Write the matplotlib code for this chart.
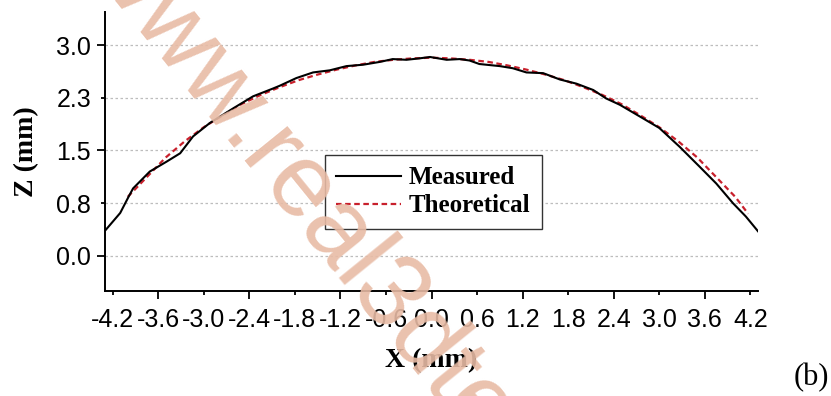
import matplotlib
matplotlib.use("Agg")
import matplotlib.pyplot as plt

# Measured profile (X in mm, Z in mm)
measured_x = [-4.29, -4.10, -3.99, -3.93, -3.71, -3.49, -3.31, -3.14, -2.92, -2.61,
              -2.35, -2.09, -2.00, -1.78, -1.56, -1.34, -1.12, -0.90, -0.68, -0.51,
              -0.33, -0.16, -0.02, 0.20, 0.37, 0.50, 0.63, 0.90, 1.07, 1.25,
              1.47, 1.69, 1.91, 2.13, 2.30, 2.48, 2.78, 3.00, 3.27, 3.53,
              3.75, 3.97, 4.14, 4.30]
measured_z = [0.37, 0.61, 0.84, 0.96, 1.20, 1.34, 1.46, 1.70, 1.89, 2.10,
              2.27, 2.38, 2.42, 2.53, 2.61, 2.64, 2.70, 2.72, 2.76, 2.80,
              2.79, 2.81, 2.83, 2.79, 2.80, 2.78, 2.73, 2.70, 2.67, 2.61,
              2.60, 2.51, 2.45, 2.36, 2.24, 2.15, 1.96, 1.82, 1.55, 1.27,
              1.03, 0.75, 0.56, 0.35]

# Theoretical profile
theory_x = [-4.00, -3.75, -3.50, -3.25, -3.00, -2.75, -2.50, -2.25, -2.00, -1.75,
            -1.50, -1.25, -1.00, -0.75, -0.50, -0.25, 0.00, 0.25, 0.50, 0.75,
            1.00, 1.25, 1.50, 1.75, 2.00, 2.25, 2.50, 2.75, 3.00, 3.25,
            3.50, 3.75, 4.00, 4.17]
theory_z = [0.84, 1.12, 1.40, 1.63, 1.83, 2.00, 2.16, 2.29, 2.40, 2.50,
            2.58, 2.65, 2.71, 2.76, 2.79, 2.81, 2.82, 2.81, 2.79, 2.76,
            2.71, 2.65, 2.58, 2.50, 2.40, 2.29, 2.16, 2.00, 1.83, 1.63,
            1.40, 1.12, 0.84, 0.60]

x_major = [-3.6, -2.4, -1.2, 0.0, 1.2, 2.4, 3.6]
x_major_labels = ["-3.6", "-2.4", "-1.2", "0.0", "1.2", "2.4", "3.6"]
x_minor = [-4.2, -3.0, -1.8, -0.6, 0.6, 1.8, 3.0, 4.2]
x_minor_labels = ["-4.2", "-3.0", "-1.8", "-0.6", "0.6", "1.8", "3.0", "4.2"]
y_major = [0.0, 1.5, 3.0]
y_major_labels = ["0.0", "1.5", "3.0"]
y_minor = [0.75, 2.25]
y_minor_labels = ["0.8", "2.3"]

W, H = 831, 396
fig = plt.figure(figsize=(W / 100, H / 100), dpi=100)
ax = fig.add_axes([105 / W, 1 - 291 / H, (758 - 105) / W, (291 - 12) / H])

ax.set_xlim(-4.3, 4.3)
ax.set_ylim(-0.5, 3.47)

# dotted horizontal guides at every Z tick
for yv in y_major + y_minor:
    ax.axhline(yv, color="#bdbdbd", lw=0.9, ls=(0, (2, 2)), zorder=0)

ax.plot(measured_x, measured_z, color="black", lw=1.5, label="Measured", zorder=3)
ax.plot(theory_x, theory_z, color="#c8202c", lw=1.6, ls=(0, (2.5, 1.6)),
        label="Theoretical", zorder=2)

ax.spines["top"].set_visible(False)
ax.spines["right"].set_visible(False)
ax.spines["left"].set_linewidth(1.4)
ax.spines["bottom"].set_linewidth(1.4)

tick_font = dict(family="Liberation Sans", size=18)
ax.set_xticks(x_major, x_major_labels, **tick_font)
ax.set_xticks(x_minor, x_minor_labels, minor=True, **tick_font)
ax.set_yticks(y_major, y_major_labels, **tick_font)
ax.set_yticks(y_minor, y_minor_labels, minor=True, **tick_font)
ax.tick_params(which="major", direction="out", length=6, width=1.3, pad=6)
ax.tick_params(which="minor", direction="out", length=3, width=1.3, pad=9)
ax.tick_params(axis="y", which="major", pad=4)
ax.tick_params(axis="y", which="minor", pad=7)

ax.set_xlabel("X (mm)", family="Liberation Serif", weight="bold", size=20, labelpad=12)
ax.set_ylabel("Z (mm)", family="Liberation Serif", weight="bold", size=20, labelpad=12)

leg = ax.legend(loc="upper left", bbox_to_anchor=(325 / W, 1 - 155 / H),
                bbox_transform=fig.transFigure, borderaxespad=0,
                prop=dict(family="Liberation Serif", weight="bold", size=18),
                frameon=True, fancybox=False, framealpha=1, edgecolor="#333333",
                handlelength=2.6, handletextpad=0.3, labelspacing=0.2,
                borderpad=0.45)
leg.get_frame().set_linewidth(1.0)

fig.text(811 / W, 1 - 378 / H, "(b)", family="Liberation Serif", size=22,
         ha="center", va="center")

fig.text(300 / W, 1 - 188 / H, "www.real3dte", family="Liberation Sans",
         size=75, color="#e8bba5", alpha=0.9, rotation=-51,
         rotation_mode="anchor", ha="center", va="center", zorder=10)

fig.savefig("out.png", dpi=100)
